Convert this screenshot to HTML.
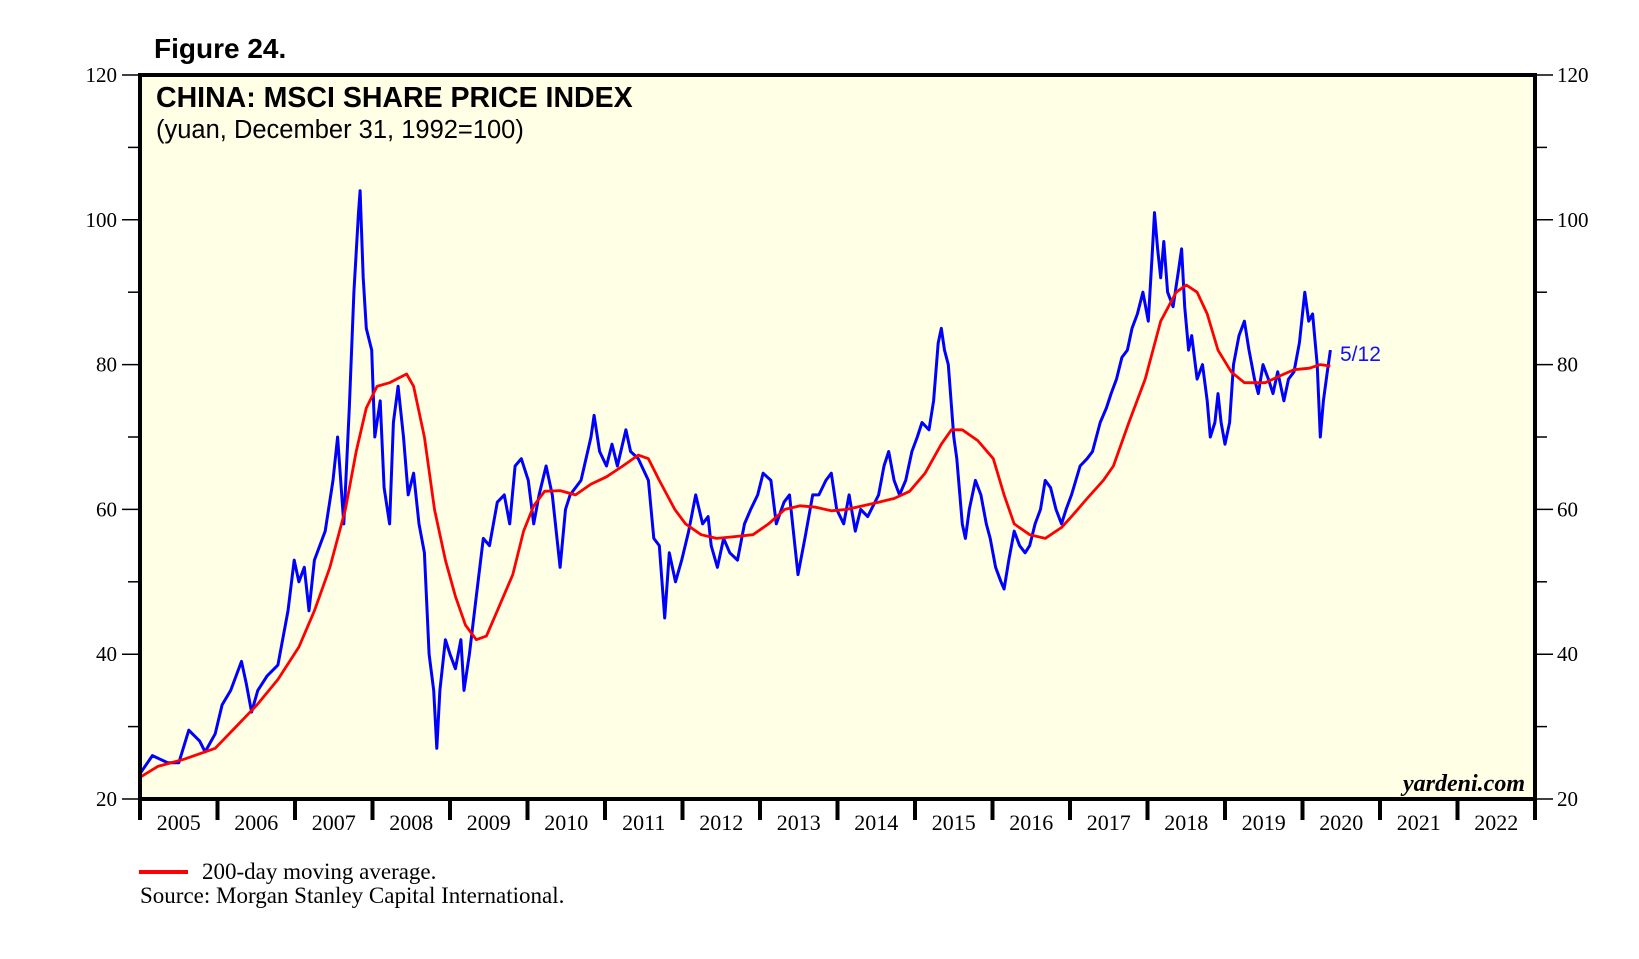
<!DOCTYPE html>
<html><head><meta charset="utf-8"><style>
body{margin:0;background:#fff;}
svg{display:block;font-family:"Liberation Serif",serif;}
</style></head><body>
<svg id="chart" width="1639" height="959" viewBox="0 0 1639 959">
<text x="154" y="58" font-family="Liberation Sans, sans-serif" font-weight="bold" font-size="28">Figure 24.</text>
<rect x="140" y="75" width="1395" height="724" fill="#ffffe6"/>
<g id="axes"></g>
<g id="series"></g>
<rect x="140" y="75" width="1395" height="724" fill="none" stroke="#000" stroke-width="4"/>
<text x="156" y="107" font-family="Liberation Sans, sans-serif" font-weight="bold" font-size="28.5">CHINA: MSCI SHARE PRICE INDEX</text>
<text x="156" y="138" font-family="Liberation Sans, sans-serif" font-size="25.5">(yuan, December 31, 1992=100)</text>
<text x="1525" y="791" text-anchor="end" font-weight="bold" font-style="italic" font-size="24">yardeni.com</text>
<text x="1340" y="361" font-family="Liberation Sans, sans-serif" font-size="21" fill="#1010ff">5/12</text>
<line x1="139" y1="872" x2="188" y2="872" stroke="#ff0000" stroke-width="4"/>
<text x="202" y="879" font-size="23">200-day moving average.</text>
<text x="140" y="903" font-size="23">Source: Morgan Stanley Capital International.</text>
</svg>
<script>
const yTicks=[20,40,60,80,100,120];
const years=[2005,2006,2007,2008,2009,2010,2011,2012,2013,2014,2015,2016,2017,2018,2019,2020,2021,2022];
const priceDates=[2005.00,2005.16,2005.36,2005.50,2005.63,2005.77,2005.84,2005.97,2006.06,2006.17,2006.31,2006.37,2006.44,2006.52,2006.64,2006.78,2006.91,2006.99,2007.05,2007.12,2007.18,2007.25,2007.39,2007.49,2007.55,2007.63,2007.70,2007.76,2007.82,2007.84,2007.88,2007.92,2007.99,2008.03,2008.10,2008.15,2008.22,2008.27,2008.33,2008.40,2008.46,2008.53,2008.60,2008.67,2008.73,2008.79,2008.83,2008.87,2008.94,2009.00,2009.07,2009.14,2009.18,2009.25,2009.34,2009.43,2009.51,2009.61,2009.70,2009.77,2009.84,2009.92,2010.01,2010.08,2010.15,2010.24,2010.32,2010.42,2010.49,2010.55,2010.69,2010.82,2010.86,2010.93,2011.02,2011.09,2011.16,2011.27,2011.33,2011.43,2011.56,2011.63,2011.70,2011.77,2011.83,2011.91,2011.99,2012.08,2012.17,2012.26,2012.33,2012.37,2012.45,2012.53,2012.61,2012.71,2012.80,2012.88,2012.97,2013.04,2013.14,2013.21,2013.31,2013.38,2013.45,2013.49,2013.58,2013.68,2013.76,2013.85,2013.92,2013.99,2014.08,2014.15,2014.23,2014.30,2014.39,2014.53,2014.60,2014.66,2014.73,2014.80,2014.88,2014.96,2015.03,2015.09,2015.18,2015.24,2015.30,2015.34,2015.38,2015.43,2015.50,2015.54,2015.61,2015.65,2015.70,2015.78,2015.85,2015.92,2015.97,2016.04,2016.11,2016.15,2016.21,2016.28,2016.35,2016.42,2016.48,2016.55,2016.62,2016.68,2016.75,2016.82,2016.89,2016.95,2017.02,2017.13,2017.22,2017.29,2017.39,2017.47,2017.53,2017.60,2017.67,2017.74,2017.80,2017.87,2017.94,2018.01,2018.06,2018.09,2018.13,2018.17,2018.21,2018.26,2018.33,2018.40,2018.44,2018.48,2018.53,2018.57,2018.64,2018.71,2018.77,2018.81,2018.87,2018.91,2018.95,2019.00,2019.06,2019.11,2019.18,2019.25,2019.31,2019.38,2019.43,2019.49,2019.56,2019.62,2019.68,2019.76,2019.82,2019.89,2019.96,2020.03,2020.08,2020.13,2020.19,2020.23,2020.27,2020.32,2020.36];
const priceValues=[23.5,26,25,25,29.5,28,26.5,29,33,35,39,36,32,35,37,38.5,46,53,50,52,46,53,57,64,70,58,74,90,101,104,92,85,82,70,75,63,58,72,77,70,62,65,58,54,40,35,27,35,42,40,38,42,35,40,48,56,55,61,62,58,66,67,64,58,62,66,62,52,60,62,64,70,73,68,66,69,66,71,68,67,64,56,55,45,54,50,53,57,62,58,59,55,52,56,54,53,58,60,62,65,64,58,61,62,55,51,56,62,62,64,65,60,58,62,57,60,59,62,66,68,64,62,64,68,70,72,71,75,83,85,82,80,70,67,58,56,60,64,62,58,56,52,50,49,53,57,55,54,55,58,60,64,63,60,58,60,62,66,67,68,72,74,76,78,81,82,85,87,90,86,95,101,96,92,97,90,88,93,96,88,82,84,78,80,75,70,72,76,72,69,72,80,84,86,82,78,76,80,78,76,79,75,78,79,83,90,86,87,80,70,75,79,82];
const maDates=[2005.00,2005.23,2005.57,2005.97,2006.24,2006.51,2006.78,2007.05,2007.25,2007.45,2007.65,2007.79,2007.92,2008.06,2008.22,2008.44,2008.53,2008.67,2008.80,2008.94,2009.07,2009.20,2009.34,2009.47,2009.61,2009.81,2009.95,2010.08,2010.22,2010.42,2010.62,2010.82,2011.02,2011.23,2011.43,2011.56,2011.70,2011.90,2012.04,2012.24,2012.44,2012.64,2012.91,2013.11,2013.32,2013.52,2013.72,2013.92,2014.12,2014.33,2014.53,2014.73,2014.93,2015.13,2015.34,2015.47,2015.61,2015.81,2016.01,2016.15,2016.28,2016.48,2016.68,2016.89,2017.02,2017.22,2017.43,2017.56,2017.76,2017.97,2018.17,2018.37,2018.50,2018.64,2018.77,2018.91,2019.08,2019.25,2019.38,2019.52,2019.72,2019.89,2020.09,2020.23,2020.36];
const maValues=[23,24.5,25.5,27,30,33,36.5,41,46,52,60,68,74,77,77.5,78.7,77,70,60,53,48,44,42,42.5,46,51,57,60.5,62.5,62.6,62,63.5,64.5,66,67.5,67,64,60,58,56.5,56,56.2,56.5,58,60,60.5,60.3,59.8,60,60.5,61,61.5,62.5,65,69,71,71,69.5,67,62,58,56.5,56,57.5,59,61.5,64,66,72,78,86,90,91,90,87,82,79,77.5,77.5,77.5,78.5,79.3,79.5,80,79.8];

const NS='http://www.w3.org/2000/svg';
const X0=140,X1=1535,Y0=799,Y1=75;
const xs=y=>X0+(y-2005)*(X1-X0)/18;
const ys=v=>Y0-(v-20)*(Y0-Y1)/100;
function mk(tag,attrs,parent){const e=document.createElementNS(NS,tag);for(const k in attrs)e.setAttribute(k,attrs[k]);parent.appendChild(e);return e;}
const axes=document.getElementById('axes'),series=document.getElementById('series');
for(let v=20;v<=120;v+=10){
  const y=ys(v),major=yTicks.includes(v);
  const l=mk('line',{x1:major?122:128,y1:y,x2:X0,y2:y,stroke:'#000','stroke-width':1.5},axes);
  
  
  const r=mk('line',{x1:X1,y1:y,x2:major?1553:1547,y2:y,stroke:'#000','stroke-width':1.5},axes);
  
  
}
yTicks.forEach(v=>{
  const a=mk('text',{x:117,y:ys(v)+7,'text-anchor':'end','font-size':21},axes);a.textContent=v;
  
  
  const b=mk('text',{x:1557,y:ys(v)+7,'font-size':21},axes);b.textContent=v;
  
  
});
years.forEach(yr=>{
  const t=mk('line',{x1:xs(yr),y1:Y0,x2:xs(yr),y2:820,stroke:'#000','stroke-width':4},axes);
  
  
  const l=mk('text',{x:xs(yr+0.5),y:830,'text-anchor':'middle','font-size':22},axes);l.textContent=yr;
  
  
});
const t2=mk('line',{x1:X1,y1:Y0,x2:X1,y2:820,stroke:'#000','stroke-width':4},axes);


const pPath=priceDates.map((d,i)=>(i?'L':'M')+xs(d).toFixed(1)+','+ys(priceValues[i]).toFixed(1)).join('');
const p=mk('path',{d:pPath,fill:'none',stroke:'#0000ff','stroke-width':3,'stroke-linejoin':'round'},series);


const mPath=maDates.map((d,i)=>(i?'L':'M')+xs(d).toFixed(1)+','+ys(maValues[i]).toFixed(1)).join('');
const m=mk('path',{d:mPath,fill:'none',stroke:'#ff0000','stroke-width':2.8,'stroke-linejoin':'round'},series);


</script>
</body></html>
